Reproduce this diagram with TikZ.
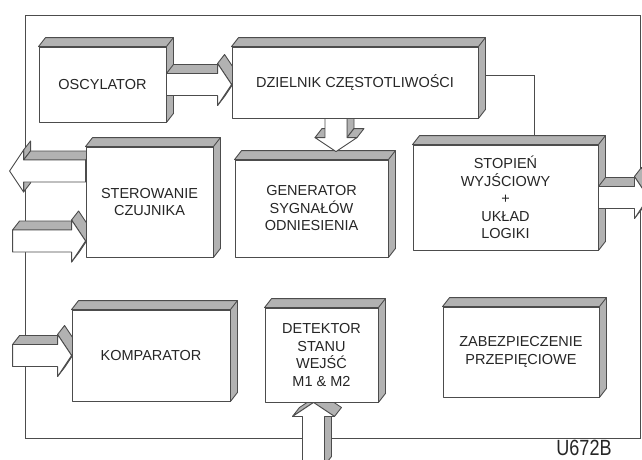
\documentclass[tikz,border=0pt]{standalone}
\usepackage{fontspec}
\setmainfont{Liberation Sans}
\usepackage{graphicx}
\usetikzlibrary{calc}
\pgfdeclarelayer{tlo}
\pgfsetlayers{tlo,main}

\newcommand{\trzon}{11pt}  % polowa szerokosci trzonu
\newcommand{\grotS}{21pt}  % polowa szerokosci grotu
\newcommand{\grotD}{14pt}  % dlugosc grotu

% strzalka w prawo: #1 poczatek, #2 grot
\newcommand{\strzP}[2]{%
  \path let \p1=(#1), \p2=(#2) in
    coordinate (a) at (\x1,\y2+\trzon)
    coordinate (b) at (\x2-\grotD,\y2+\trzon)
    coordinate (c) at (\x2-\grotD,\y2+\grotS)
    coordinate (t) at (\x2,\y2)
    coordinate (d) at (\x2-\grotD,\y2-\grotS)
    coordinate (e) at (\x2-\grotD,\y2-\trzon)
    coordinate (f) at (\x1,\y2-\trzon);
  \filldraw[sciana] (a) -- (b) -- ++(7pt,9pt) -- ($(a)+(7pt,9pt)$) -- cycle;
  \filldraw[sciana] (d) -- (t) -- ++(7pt,9pt) -- ($(d)+(7pt,9pt)$) -- cycle;
  \filldraw[sciana] (c) -- (t) -- ++(7pt,9pt) -- ($(c)+(7pt,9pt)$) -- cycle;
  \filldraw[czolo] (a) -- (b) -- (c) -- (t) -- (d) -- (e) -- (f) -- cycle;
}
% strzalka w lewo
\newcommand{\strzL}[2]{%
  \path let \p1=(#1), \p2=(#2) in
    coordinate (a) at (\x1,\y2+\trzon)
    coordinate (b) at (\x2+\grotD,\y2+\trzon)
    coordinate (c) at (\x2+\grotD,\y2+\grotS)
    coordinate (t) at (\x2,\y2)
    coordinate (d) at (\x2+\grotD,\y2-\grotS)
    coordinate (e) at (\x2+\grotD,\y2-\trzon)
    coordinate (f) at (\x1,\y2-\trzon);
  \filldraw[sciana] (e) -- (d) -- ++(7pt,9pt) -- ($(e)+(7pt,9pt)$) -- cycle;
  \filldraw[sciana] (b) -- (c) -- ++(7pt,9pt) -- ($(b)+(7pt,9pt)$) -- cycle;
  \filldraw[sciana] (a) -- (b) -- ++(7pt,9pt) -- ($(a)+(7pt,9pt)$) -- cycle;
  \filldraw[czolo] (a) -- (b) -- (c) -- (t) -- (d) -- (e) -- (f) -- cycle;
}
% strzalka w dol
\newcommand{\strzD}[2]{%
  \path let \p1=(#1), \p2=(#2) in
    coordinate (a) at (\x2-\trzon,\y1)
    coordinate (b) at (\x2-\trzon,\y2+\grotD)
    coordinate (c) at (\x2-\grotS,\y2+\grotD)
    coordinate (t) at (\x2,\y2)
    coordinate (d) at (\x2+\grotS,\y2+\grotD)
    coordinate (e) at (\x2+\trzon,\y2+\grotD)
    coordinate (f) at (\x2+\trzon,\y1);
  \filldraw[sciana] (f) -- (e) -- ++(7pt,9pt) -- ($(f)+(7pt,0pt)$) -- cycle;
  \filldraw[sciana] (c) -- (b) -- ++(7pt,9pt) -- ($(c)+(7pt,9pt)$) -- cycle;
  \filldraw[sciana] (e) -- (d) -- ++(7pt,9pt) -- ($(e)+(7pt,9pt)$) -- cycle;
  \filldraw[czolo] (a) -- (b) -- (c) -- (t) -- (d) -- (e) -- (f) -- cycle;
}
% strzalka w gore
\newcommand{\strzU}[2]{%
  \path let \p1=(#1), \p2=(#2) in
    coordinate (a) at (\x2-\trzon,\y1)
    coordinate (b) at (\x2-\trzon,\y2-\grotD)
    coordinate (c) at (\x2-\grotS,\y2-\grotD)
    coordinate (t) at (\x2,\y2)
    coordinate (d) at (\x2+\grotS,\y2-\grotD)
    coordinate (e) at (\x2+\trzon,\y2-\grotD)
    coordinate (f) at (\x2+\trzon,\y1);
  \filldraw[sciana] (e) -- (f) -- ++(7pt,9pt) -- ($(e)+(7pt,9pt)$) -- cycle;
  \filldraw[sciana] (c) -- (t) -- ++(7pt,9pt) -- ($(c)+(7pt,9pt)$) -- cycle;
  \filldraw[sciana] (t) -- (d) -- ++(7pt,9pt) -- ($(t)+(7pt,9pt)$) -- cycle;
  \filldraw[czolo] (a) -- (b) -- (c) -- (t) -- (d) -- (e) -- (f) -- cycle;
}

\begin{document}
\begin{tikzpicture}[
  x=1pt, y=-1pt,
  linia/.style={draw=black!70, line width=0.9pt},
  sciana/.style={fill=black!30, draw=black!70, line width=0.9pt, line join=round},
  czolo/.style={fill=white, draw=black!70, line width=0.9pt, line join=round},
  blok/.style={czolo, inner sep=0pt, align=center, text=black!85,
    font=\fontsize{14.5}{17.5}\selectfont}
]
\useasboundingbox (0,0) rectangle (642,459);

\node[blok, minimum width=127pt, minimum height=75pt] (osc) at (102.5,84.5) {OSCYLATOR};
\node[blok, minimum width=246pt, minimum height=71pt] (dziel) at (355,82.5) {DZIELNIK CZĘSTOTLIWOŚCI};
\node[blok, minimum width=127pt, minimum height=110pt] (ster) at (149.5,202) {STEROWANIE\\CZUJNIKA};
\node[blok, minimum width=153pt, minimum height=97pt] (gen) at (311.5,208.5) {GENERATOR\\SYGNAŁÓW\\ODNIESIENIA};
\node[blok, minimum width=185pt, minimum height=105pt] (stop) at (505.5,197.5) {STOPIEŃ\\WYJŚCIOWY\\+\\UKŁAD\\LOGIKI};
\node[blok, minimum width=158pt, minimum height=91pt] (komp) at (151,355.5) {KOMPARATOR};
\node[blok, minimum width=113pt, minimum height=94pt] (det) at (321.5,355) {DETEKTOR\\STANU\\WEJŚĆ\\M1 \& M2};
\node[blok, minimum width=156pt, minimum height=90pt] (zab) at (521,352) {ZABEZPIECZENIE\\PRZEPIĘCIOWE};

\node[font=\fontsize{22}{22}\selectfont, text=black!85, anchor=base, inner sep=0pt] (kod) at (584,455) {\scalebox{0.82}[1]{U672B}};

\begin{pgfonlayer}{tlo}
% ramka
\draw[linia] (25,15) rectangle (640,438);

% bryly blokow
\foreach \n in {osc,dziel,ster,gen,stop,komp,det,zab} {
  \filldraw[sciana] (\n.north west) -- ++(7pt,9pt) -- ($(\n.north east)+(7pt,9pt)$)
    -- ($(\n.south east)+(7pt,9pt)$) -- (\n.south east) -- (\n.north east) -- cycle;
  \draw[linia] (\n.north east) -- ++(7pt,9pt);
}

\draw[linia] ([shift={(7pt,7.5pt)}]dziel.east) -| ([shift={(28.5pt,9pt)}]stop.north);

% strzalki
\coordinate (grotG) at ($(gen.north)+(24.5,-8)$);
\strzP{osc.east}{osc.east -| dziel.west}
\strzD{grotG |- dziel.south}{grotG}
\strzL{[yshift=31pt]ster.west}{[xshift=-76pt,yshift=31pt]ster.west}
\strzP{[xshift=-73pt,yshift=-39pt]ster.west}{[yshift=-39pt]ster.west}
\strzP{[xshift=-59pt]komp.west}{komp.west}
\strzP{stop.east}{[xshift=50pt]stop.east}
\strzU{[xshift=-8pt,yshift=-63pt]det.south}{[xshift=-8pt]det.south}
\end{pgfonlayer}
\end{tikzpicture}
\end{document}
